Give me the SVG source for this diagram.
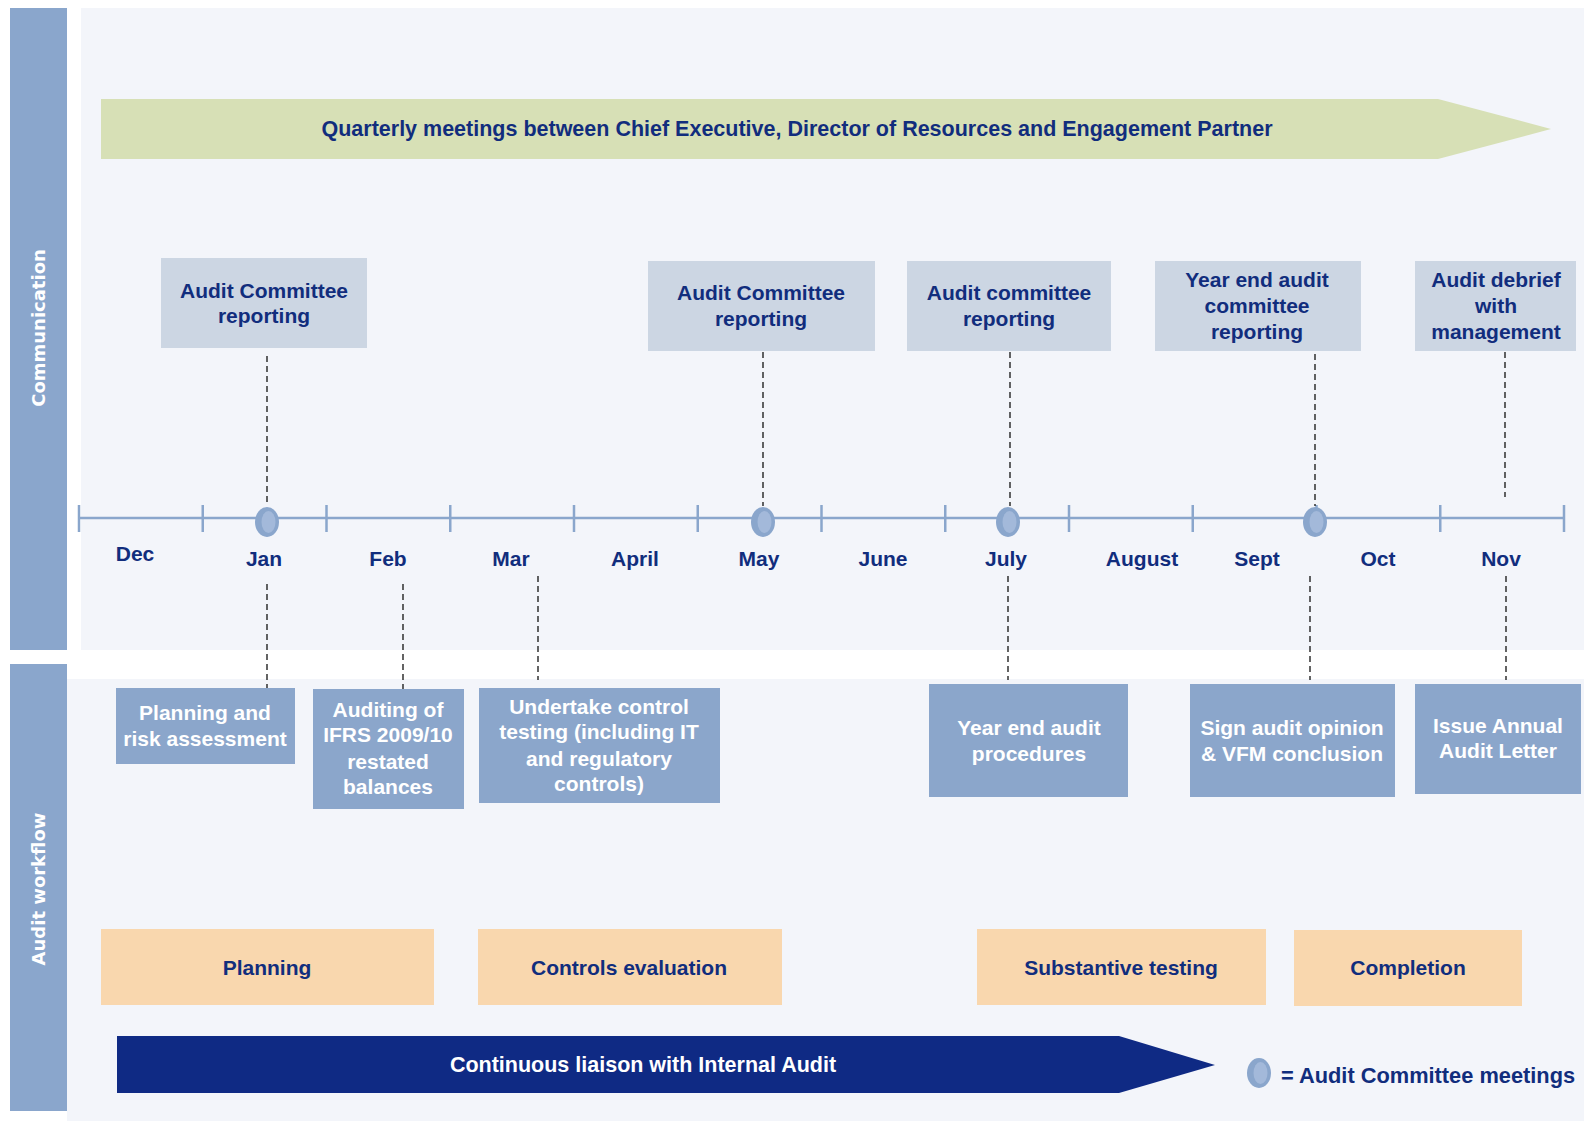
<svg xmlns="http://www.w3.org/2000/svg" xmlns:xlink="http://www.w3.org/1999/xlink" width="1584" height="1121" viewBox="0 0 1584 1121">
<style>
.side{fill:#8aa6cc}
.panel{fill:#f3f5fa}
.tbox{fill:#ccd6e3}
.bbox{fill:#8ba6cb}
.obox{fill:#f9d7ae}
.dk{font-family:"Liberation Sans",Arial,sans-serif;font-weight:bold;font-size:21px;fill:#112d7d;text-anchor:middle}
.wt{font-family:"Liberation Sans",Arial,sans-serif;font-weight:bold;font-size:21px;fill:#ffffff;text-anchor:middle}
.sl{font-family:"DejaVu Sans",sans-serif;font-weight:bold;font-size:18px;fill:#ffffff;text-anchor:middle}
.dash{stroke:#111;stroke-width:1.3;stroke-dasharray:6 4;fill:none}
.axis{stroke:#8aa6cc;stroke-width:2.5;fill:none}
</style>
<defs>
<g id="meet">
<ellipse cx="0" cy="0" rx="12" ry="15" fill="#8aa6cc"/>
<ellipse cx="1.5" cy="0" rx="7" ry="11" fill="#a3b9da"/>
</g>
</defs>
<rect width="1584" height="1121" fill="#ffffff"/>
<g id="background">
<rect class="panel" x="81" y="8" width="1503" height="642"/>
<rect class="panel" x="67" y="679" width="1517" height="442"/>
<rect class="side" x="10" y="8" width="57" height="642"/>
<rect class="side" x="10" y="664" width="57" height="447"/>
<text class="sl" transform="translate(45,328) rotate(-90)">Communication</text>
<text class="sl" transform="translate(45,889) rotate(-90)">Audit workflow</text>
</g>
<g id="quarterly">
<polygon points="101,99 1438,99 1551,129 1438,159 101,159" fill="#d7e0b6"/>
<text class="dk" x="797" y="136" style="font-size:21.5px">Quarterly meetings between Chief Executive, Director of Resources and Engagement Partner</text>
</g>
<g id="timeline">
<line class="axis" x1="79" y1="518" x2="1564" y2="518"/>
<path class="axis" stroke-width="2" d="M79,505V532M202.75,505V532M326.5,505V532M450.25,505V532M574,505V532M697.75,505V532M821.5,505V532M945.25,505V532M1069,505V532M1192.75,505V532M1316.5,505V532M1440.25,505V532M1564,505V532"/>
<g class="dk">
<text x="135" y="561">Dec</text>
<text x="264" y="566">Jan</text>
<text x="388" y="566">Feb</text>
<text x="511" y="566">Mar</text>
<text x="635" y="566">April</text>
<text x="759" y="566">May</text>
<text x="883" y="566">June</text>
<text x="1006" y="566">July</text>
<text x="1142" y="566">August</text>
<text x="1257" y="566">Sept</text>
<text x="1378" y="566">Oct</text>
<text x="1501" y="566">Nov</text>
</g>
</g>
<g id="connectors">
<line class="dash" x1="267" y1="356" x2="267" y2="506"/>
<line class="dash" x1="763" y1="352" x2="763" y2="506"/>
<line class="dash" x1="1010" y1="352" x2="1010" y2="506"/>
<line class="dash" x1="1315" y1="354" x2="1315" y2="506"/>
<line class="dash" x1="1505" y1="352" x2="1505" y2="497"/>
<line class="dash" x1="267" y1="584" x2="267" y2="688"/>
<line class="dash" x1="403" y1="584" x2="403" y2="689"/>
<line class="dash" x1="538" y1="576" x2="538" y2="680"/>
<line class="dash" x1="1008" y1="576" x2="1008" y2="680"/>
<line class="dash" x1="1310" y1="576" x2="1310" y2="680"/>
<line class="dash" x1="1506" y1="576" x2="1506" y2="680"/>
</g>
<g id="meetings">
<use xlink:href="#meet" x="267" y="522"/>
<use xlink:href="#meet" x="763" y="522"/>
<use xlink:href="#meet" x="1008" y="522"/>
<use xlink:href="#meet" x="1315" y="522"/>
</g>
<g id="ac1">
<rect class="tbox" x="161" y="258" width="206" height="90"/>
<text class="dk" x="264" y="298">Audit Committee</text>
<text class="dk" x="264" y="323">reporting</text>
</g>
<g id="ac2">
<rect class="tbox" x="648" y="261" width="227" height="90"/>
<text class="dk" x="761" y="300">Audit Committee</text>
<text class="dk" x="761" y="326">reporting</text>
</g>
<g id="ac3">
<rect class="tbox" x="907" y="261" width="204" height="90"/>
<text class="dk" x="1009" y="300">Audit committee</text>
<text class="dk" x="1009" y="326">reporting</text>
</g>
<g id="ac4">
<rect class="tbox" x="1155" y="261" width="206" height="90"/>
<text class="dk" x="1257" y="287">Year end audit</text>
<text class="dk" x="1257" y="313">committee</text>
<text class="dk" x="1257" y="339">reporting</text>
</g>
<g id="ac5">
<rect class="tbox" x="1415" y="261" width="161" height="90"/>
<text class="dk" x="1496" y="287">Audit debrief</text>
<text class="dk" x="1496" y="313">with</text>
<text class="dk" x="1496" y="339">management</text>
</g>
<g id="wf1">
<rect class="bbox" x="116" y="688" width="179" height="76"/>
<text class="wt" x="205" y="720">Planning and</text>
<text class="wt" x="205" y="746">risk assessment</text>
</g>
<g id="wf2">
<rect class="bbox" x="313" y="689" width="151" height="120"/>
<text class="wt" x="388" y="717">Auditing of</text>
<text class="wt" x="388" y="742">IFRS 2009/10</text>
<text class="wt" x="388" y="769">restated</text>
<text class="wt" x="388" y="794">balances</text>
</g>
<g id="wf3">
<rect class="bbox" x="479" y="688" width="241" height="115"/>
<text class="wt" x="599" y="714">Undertake control</text>
<text class="wt" x="599" y="739">testing (including IT</text>
<text class="wt" x="599" y="766">and regulatory</text>
<text class="wt" x="599" y="791">controls)</text>
</g>
<g id="wf4">
<rect class="bbox" x="929" y="684" width="199" height="113"/>
<text class="wt" x="1029" y="735">Year end audit</text>
<text class="wt" x="1029" y="761">procedures</text>
</g>
<g id="wf5">
<rect class="bbox" x="1190" y="684" width="205" height="113"/>
<text class="wt" x="1292" y="735">Sign audit opinion</text>
<text class="wt" x="1292" y="761">&amp; VFM conclusion</text>
</g>
<g id="wf6">
<rect class="bbox" x="1415" y="684" width="166" height="110"/>
<text class="wt" x="1498" y="733">Issue Annual</text>
<text class="wt" x="1498" y="758">Audit Letter</text>
</g>
<g id="ph-planning">
<rect class="obox" x="101" y="929" width="333" height="76"/>
<text class="dk" x="267" y="975">Planning</text>
</g>
<g id="ph-controls">
<rect class="obox" x="478" y="929" width="304" height="76"/>
<text class="dk" x="629" y="975">Controls evaluation</text>
</g>
<g id="ph-substantive">
<rect class="obox" x="977" y="929" width="289" height="76"/>
<text class="dk" x="1121" y="975">Substantive testing</text>
</g>
<g id="ph-completion">
<rect class="obox" x="1294" y="930" width="228" height="76"/>
<text class="dk" x="1408" y="975">Completion</text>
</g>
<g id="liaison">
<polygon points="117,1036 1119,1036 1215,1065 1119,1093 117,1093" fill="#0f2a84"/>
<text class="wt" x="643" y="1072" style="font-size:21.5px">Continuous liaison with Internal Audit</text>
</g>
<g id="legend">
<use xlink:href="#meet" x="1259" y="1073"/>
<text class="dk" x="1281" y="1083" style="text-anchor:start;font-size:21.8px">= Audit Committee meetings</text>
</g>
</svg>
